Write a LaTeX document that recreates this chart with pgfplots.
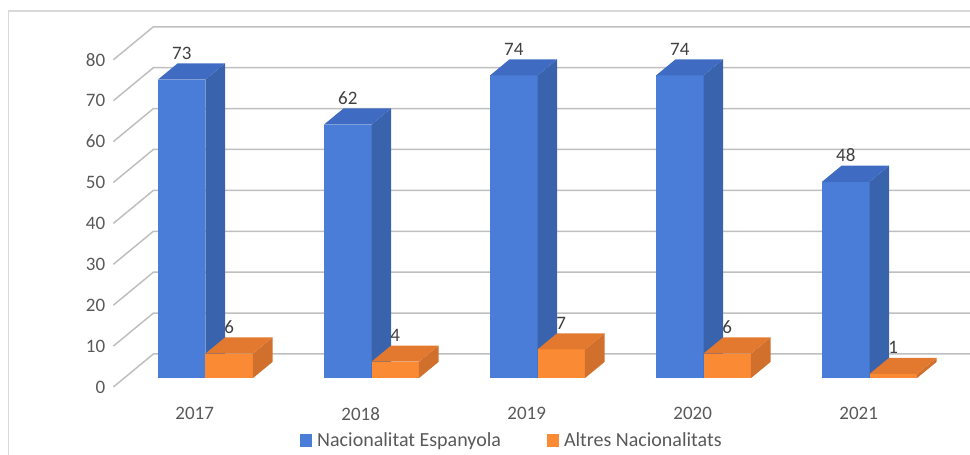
\documentclass[border=0pt]{standalone}
\usepackage{fontspec}
\setmainfont{Carlito}
\usepackage{pgfplots}
\pgfplotsset{compat=1.18}
\definecolor{bF}{HTML}{4A7DD7}
\definecolor{bS}{HTML}{3A63AD}
\definecolor{bT}{HTML}{3F6CC2}
\definecolor{oF}{HTML}{FB8A35}
\definecolor{oS}{HTML}{D0702C}
\definecolor{oT}{HTML}{E3792F}
\definecolor{gridc}{HTML}{BFBFBF}
\definecolor{framec}{HTML}{D9D9D9}
\definecolor{labc}{HTML}{595959}
\definecolor{labd}{HTML}{404040}
% x0, x1, value, front, side, top colours
\newcommand{\tdbar}[6]{%
\addplot3[forget plot, fill=#4, draw=none] coordinates {(#1,0.27,0) (#2,0.27,0) (#2,0.27,#3) (#1,0.27,#3)};
\addplot3[forget plot, fill=#5, draw=none] coordinates {(#2,0.27,0) (#2,0.76,0) (#2,0.76,#3) (#2,0.27,#3)};
\addplot3[forget plot, fill=#6, draw=none] coordinates {(#1,0.27,#3) (#2,0.27,#3) (#2,0.76,#3) (#1,0.76,#3)};
}
\begin{document}
\begin{tikzpicture}
\useasboundingbox (-194.7pt,-68pt) rectangle (775.3pt,387pt);
\clip (-194.7pt,-68pt) rectangle (775.3pt,387pt);
\draw[framec, line width=1.2pt] (-186pt,-100pt) rectangle (800pt,376pt);
\begin{axis}[at={(0pt,0pt)}, anchor=origin,
 x={(166pt,0pt)}, y={(40pt,33pt)}, z={(0pt,4.09pt)},
 xmin=-0.49, xmax=4.49, ymin=0, ymax=1, zmin=0, zmax=80,
 clip=false,
 hide axis,
 /pgf/number format/assume math mode=true,
 legend style={at={(axis cs:1.911,0,-12.96)}, anchor=center, draw=none, fill=none,
   legend columns=2, font=\fontsize{20}{23}\selectfont, text=labc,
   /tikz/every even column/.append style={column sep=44pt}},
 legend image code/.code={\fill[#1] (0pt,-7pt) rectangle (12pt,6pt); \path (15pt,0pt);},
]
\addlegendimage{fill=bF, draw=none}
\addlegendentry{Nacionalitat Espanyola}
\addlegendimage{fill=oF, draw=none}
\addlegendentry{Altres Nacionalitats}
% gridlines on the side wall and the back wall
\pgfplotsinvokeforeach{0,10,...,80}{
  \addplot3[forget plot, draw=gridc, line width=1.5pt, mark=none] coordinates {(-0.49,0,#1) (-0.49,1,#1) (4.49,1,#1)};
}
% value axis labels
\addplot3[forget plot, draw=none, mark=none, nodes near coords, point meta=z,
  nodes near coords style={anchor=east, inner sep=0pt, xshift=-8pt, font=\fontsize{19}{22}\selectfont, text=labc}]
  coordinates {(-0.49,0,0) (-0.49,0,10) (-0.49,0,20) (-0.49,0,30) (-0.49,0,40) (-0.49,0,50) (-0.49,0,60) (-0.49,0,70) (-0.49,0,80)};
% category labels
\addplot3[forget plot, draw=none, mark=none, nodes near coords, point meta=explicit symbolic,
  nodes near coords style={anchor=north, inner sep=0pt, yshift=-20pt, font=\fontsize{19}{22}\selectfont, text=labc}]
  coordinates {(0,0,0) [2017] (1,0,0) [2018] (2,0,0) [2019] (3,0,0) [2020] (4,0,0) [2021]};
% 2017
\tdbar{-0.286}{0}{73}{bF}{bS}{bT}
\tdbar{0}{0.286}{6}{oF}{oS}{oT}
% 2018
\tdbar{0.714}{1}{62}{bF}{bS}{bT}
\tdbar{1}{1.286}{4}{oF}{oS}{oT}
% 2019
\tdbar{1.714}{2}{74}{bF}{bS}{bT}
\tdbar{2}{2.286}{7}{oF}{oS}{oT}
% 2020
\tdbar{2.714}{3}{74}{bF}{bS}{bT}
\tdbar{3}{3.286}{6}{oF}{oS}{oT}
% 2021
\tdbar{3.714}{4}{48}{bF}{bS}{bT}
\tdbar{4}{4.286}{1}{oF}{oS}{oT}
% data labels
\addplot3[forget plot, draw=none, mark=none, nodes near coords, point meta=z,
  nodes near coords style={anchor=south, inner sep=0pt, yshift=20pt, font=\fontsize{19}{22}\selectfont, text=labd}]
  coordinates {(-0.143,0.27,73) (0.857,0.27,62) (1.857,0.27,74) (2.857,0.27,74) (3.857,0.27,48)};
\addplot3[forget plot, draw=none, mark=none, nodes near coords, point meta=z,
  nodes near coords style={anchor=south, inner sep=0pt, yshift=20pt, font=\fontsize{19}{22}\selectfont, text=labd}]
  coordinates {(0.143,0.27,6) (1.143,0.27,4) (2.143,0.27,7) (3.143,0.27,6) (4.143,0.27,1)};
\end{axis}
\end{tikzpicture}
\end{document}
